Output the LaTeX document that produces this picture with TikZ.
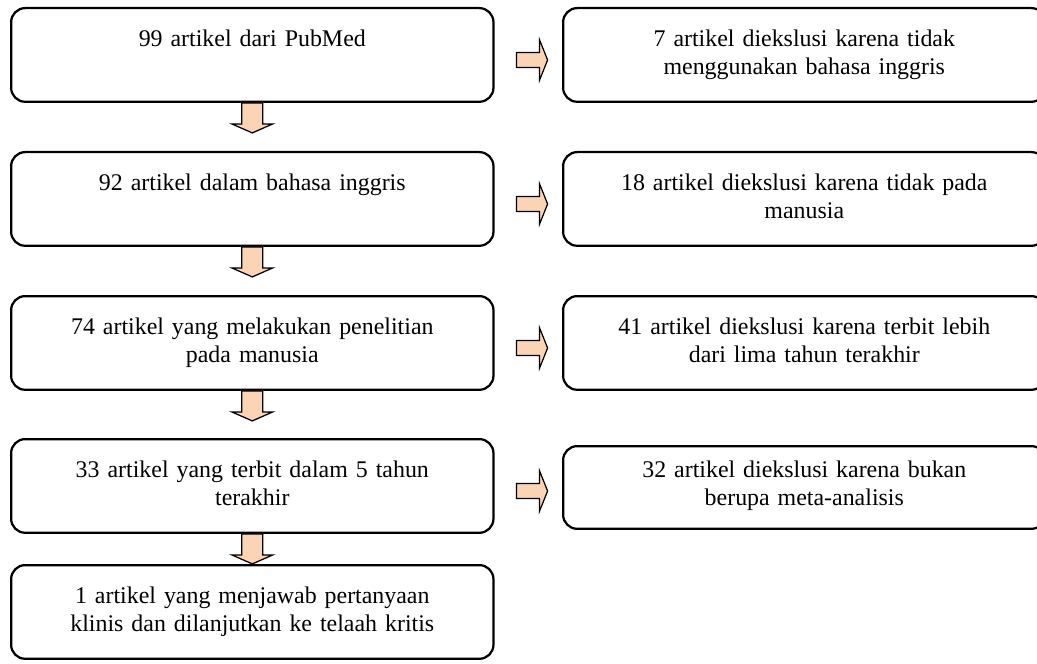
\documentclass[tikz,border=0pt]{standalone}
\usepackage{fontspec}
\setmainfont{Liberation Serif}
\usetikzlibrary{positioning, calc}
\definecolor{peach}{HTML}{FBD4B4}
\tikzset{
  box/.style={draw, line width=1.6pt, rounded corners=10pt, inner sep=0pt,
    text width=343pt, align=center, text height=27pt, text depth=39.6pt,
    font=\fontsize{17}{20}\selectfont},
  arr/.style={draw, line width=0.9pt, fill=peach},
  downarr/.pic={\path[arr] (-10.5,0) -- (10.5,0) -- (10.5,21) -- (20.5,21)
    -- (0,30) -- (-20.5,21) -- (-10.5,21) -- cycle;},
  rightarr/.pic={\path[arr] (0,-7.5) -- (23,-7.5) -- (23,-20) -- (31,0)
    -- (23,20) -- (23,7.5) -- (0,7.5) -- cycle;}
}
\begin{document}
\begin{tikzpicture}[x=0.025cm, y=-0.025cm]
    \useasboundingbox (0,0) rectangle (1037,663);
    \clip (0,0) rectangle (1037,663);
    % left column
    \node [box, anchor=north west] (l1) at (10,7) {99 artikel dari PubMed};
    \node [box, anchor=north west] (l2) at (10,151) {92 artikel dalam bahasa inggris};
    \node [box, anchor=north west] (l3) at (10,295) {74 artikel yang melakukan penelitian\\pada manusia};
    \node [box, anchor=north west] (l4) at (10,438) {33 artikel yang terbit dalam 5 tahun\\terakhir};
    \node [box, anchor=north west] (l5) at (10,564) {1 artikel yang menjawab pertanyaan\\klinis dan dilanjutkan ke telaah kritis};
    % right column
    \node [box, anchor=north west] (r1) at (562,7) {7 artikel diekslusi karena tidak\\menggunakan bahasa inggris};
    \node [box, anchor=north west] (r2) at (562,151) {18 artikel diekslusi karena tidak pada\\manusia};
    \node [box, anchor=north west] (r3) at (562,295) {41 artikel diekslusi karena terbit lebih\\dari lima tahun terakhir};
    \node [box, anchor=north west, text height=22pt, text depth=36.8pt] (r4) at (562,445) {32 artikel diekslusi karena bukan\\berupa meta-analisis};
    % arrows
    \foreach \i in {1,...,4}
        \pic at (l\i.south) {downarr};
    \foreach \i in {1,...,4}
        \pic at ($(l\i.north east)+(22,53)$) {rightarr};
\end{tikzpicture}
\end{document}
